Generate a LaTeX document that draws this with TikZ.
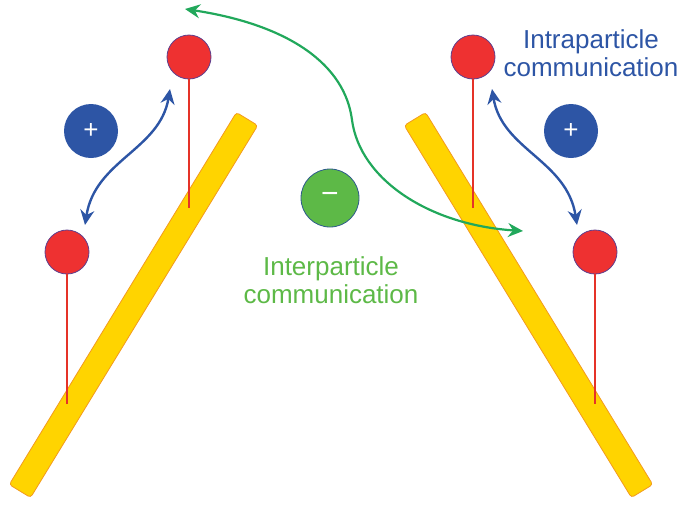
\documentclass[tikz,border=0pt]{standalone}
\usepackage{fontspec}
\setmainfont{Liberation Sans}
\usetikzlibrary{arrows.meta}
\definecolor{barfill}{HTML}{FFD400}
\definecolor{barline}{HTML}{F39A1E}
\definecolor{redp}{HTML}{EE3131}
\definecolor{redline}{HTML}{5E3F8E}
\definecolor{stemc}{HTML}{E53228}
\definecolor{bluec}{HTML}{2D55A5}
\definecolor{greenc}{HTML}{5DB947}
\definecolor{greenarr}{HTML}{21A85B}
\definecolor{greenline}{HTML}{2E5A8C}
\tikzset{
  barbox/.style={draw=barline, fill=barfill, line width=0.8pt, rounded corners=3pt,
    minimum width=436pt, minimum height=25pt, inner sep=0pt},
  particle/.style={circle, draw=redline, fill=redp, line width=0.8pt, minimum size=44pt, inner sep=0pt},
  stemline/.style={draw=stemc, line width=1.8pt},
  pluscirc/.style={circle, fill=bluec, minimum size=54pt, inner sep=0pt, text=white,
    font=\fontsize{26}{26}\selectfont},
  minuscirc/.style={circle, draw=greenline, fill=greenc, line width=0.8pt, minimum size=58pt,
    inner sep=0pt, text=white, font=\fontsize{30}{30}\selectfont},
  intraarrow/.style={draw=bluec, line width=2.4pt,
    {Stealth[length=15pt,width=14pt,inset=5pt]}-{Stealth[length=15pt,width=14pt,inset=5pt]}},
  interarrow/.style={draw=greenarr, line width=2.2pt,
    {Stealth[length=15pt,width=14pt,inset=5pt]}-{Stealth[length=15pt,width=14pt,inset=5pt]}},
  label/.style={align=center, font=\fontsize{26}{28}\selectfont, inner sep=0pt}
}
\begin{document}
\begin{tikzpicture}[x=1pt,y=-1pt]
\useasboundingbox (0,0) rectangle (685,509);
% bars
\node[barbox, rotate=58.6] (barL) at (133.5,305) {};
\node[barbox, rotate=-58.6] (barR) at (528.5,305) {};
% particles
\node[particle] (pL1) at (189,57) {};
\node[particle] (pL2) at (67,252) {};
\node[particle] (pR1) at (473,57) {};
\node[particle] (pR2) at (595,252) {};
% stem ends
\coordinate (sL1) at (189,208);
\coordinate (sL2) at (67,404);
\coordinate (sR1) at (473,208);
\coordinate (sR2) at (595,404);
\draw[stemline] (pL1.south) -- (sL1);
\draw[stemline] (pL2.south) -- (sL2);
\draw[stemline] (pR1.south) -- (sR1);
\draw[stemline] (pR2.south) -- (sR2);
% charges
\node[pluscirc] (qL) at (91,131) {+};
\node[pluscirc] (qR) at (571,131) {+};
\node[minuscirc] (m) at (330,198) {−};
% intraparticle arrows
\coordinate (aL1) at (170,89);
\coordinate (aL2) at (85,225);
\coordinate (aR1) at (492,89);
\coordinate (aR2) at (577,225);
\draw[intraarrow] (aL1) .. controls (160,150) and (95,160) .. (aL2);
\draw[intraarrow] (aR1) .. controls (502,150) and (567,160) .. (aR2);
% interparticle arrow
\coordinate (g1) at (185,9);
\coordinate (gm) at (352,120);
\coordinate (g2) at (523,231);
\draw[interarrow] (g1) .. controls (290,25) and (345,65) .. (gm)
   .. controls (360,180) and (430,225) .. (g2);
% labels
\node[label, text=bluec] (intra) at (591,53) {Intraparticle\\communication};
\node[label, text=greenc] (inter) at (331,280) {Interparticle\\communication};
\end{tikzpicture}
\end{document}
